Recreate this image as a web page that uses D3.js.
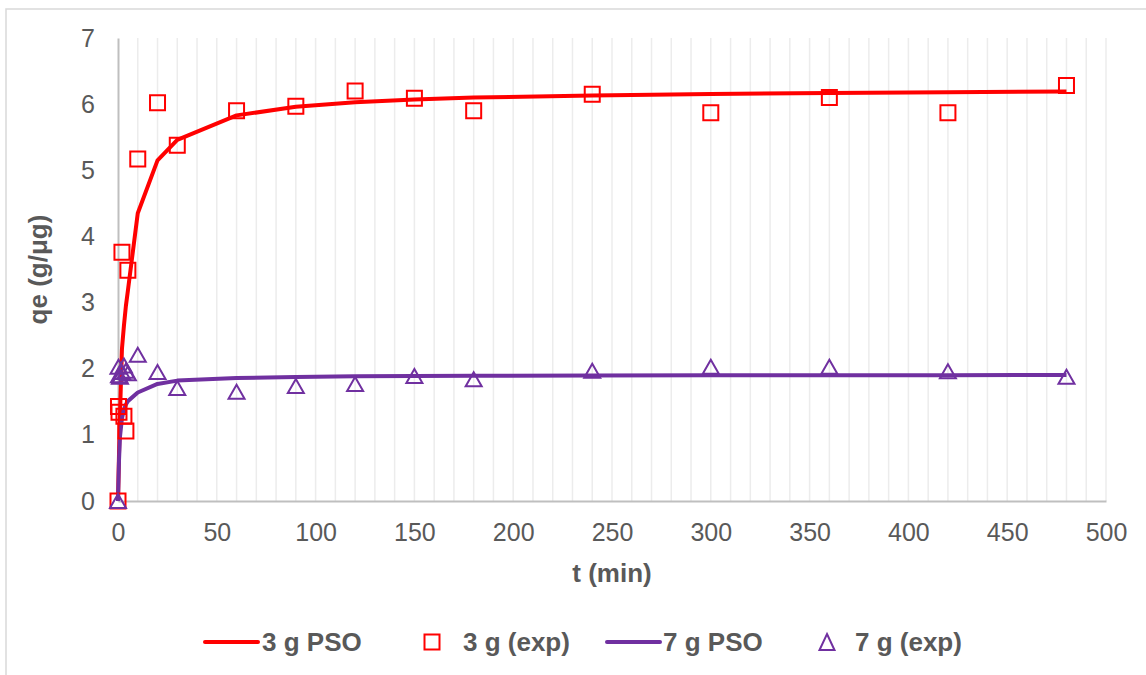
<!DOCTYPE html>
<html>
<head>
<meta charset="utf-8">
<script src="https://cdn.jsdelivr.net/npm/d3@7/dist/d3.min.js"></script>
<style>
  html, body { margin: 0; padding: 0; background: #fff; }
  svg { display: block; font-family: Arial, "Liberation Sans", sans-serif; }
</style>
</head>
<body>
<svg id="chart" width="1146" height="675"></svg>
<script>
// Contact time (min) for the experimental runs
const timeExp = [0, 0.25, 0.5, 2, 3, 4, 5, 10, 20, 30, 60, 90, 120, 150, 180, 240, 300, 360, 420, 480];
// Measured uptake, 3 g dose
const qe3Exp = [0, 1.43, 1.34, 3.76, 1.28, 1.06, 3.49, 5.17, 6.02, 5.38, 5.90, 5.97, 6.20, 6.09, 5.90, 6.15, 5.87, 6.10, 5.87, 6.28];
// Measured uptake, 7 g dose
const timeExp7 = [0, 0.25, 0.5, 1, 2, 3, 4, 5, 10, 20, 30, 60, 90, 120, 150, 180, 240, 300, 360, 420, 480];
const qe7Exp = [0, 2.03, 1.90, 1.88, 1.95, 2.05, 1.97, 1.93, 2.21, 1.95, 1.71, 1.65, 1.74, 1.77, 1.89, 1.84, 1.97, 2.03, 2.03, 1.96, 1.88];

// Pseudo-second-order model curves
const timeFit = [0, 0.5, 1, 2, 3, 4, 5, 10, 20, 30, 60, 90, 120, 150, 180, 240, 300, 360, 420, 480];
const qe3PSO = [0, 0.70, 1.30, 2.30, 2.65, 2.95, 3.18, 4.35, 5.15, 5.46, 5.83, 5.96, 6.03, 6.07, 6.10, 6.13, 6.155, 6.17, 6.18, 6.19];
const qe7PSO = [0, 0.60, 0.97, 1.25, 1.38, 1.46, 1.51, 1.64, 1.77, 1.82, 1.86, 1.875, 1.885, 1.89, 1.893, 1.897, 1.90, 1.902, 1.903, 1.905];

const xTicks = [0, 50, 100, 150, 200, 250, 300, 350, 400, 450, 500];
const yTicks = [0, 1, 2, 3, 4, 5, 6, 7];

const legendItems = [
  { label: "3 g PSO", kind: "line", color: "#FF0000" },
  { label: "3 g (exp)", kind: "square", color: "#FF0000" },
  { label: "7 g PSO", kind: "line", color: "#7030A0" },
  { label: "7 g (exp)", kind: "triangle", color: "#7030A0" }
];

const RED = "#FF0000", PURPLE = "#7030A0", TEXT = "#595959";

const svg = d3.select("#chart");

// chart area outline
svg.append("rect")
  .attr("x", 6).attr("y", 9).attr("width", 1400).attr("height", 900)
  .attr("fill", "none").attr("stroke", "#d9d9d9").attr("stroke-width", 1.5);

const plot = { left: 118, right: 1106, top: 38, bottom: 501 };

const x = d3.scaleLinear().domain([0, 500]).range([plot.left, plot.right]);
const y = d3.scaleLinear().domain([0, 7]).range([plot.bottom, plot.top]);

// vertical minor grid every 10 min
const gridVals = d3.range(10, 501, 10);
svg.append("g")
  .selectAll("line").data(gridVals).join("line")
  .attr("x1", d => x(d)).attr("x2", d => x(d))
  .attr("y1", plot.top).attr("y2", plot.bottom)
  .attr("stroke", "#ececec").attr("stroke-width", 1.5);

// axes
const xAxis = svg.append("g")
  .attr("transform", `translate(0,${plot.bottom})`)
  .call(d3.axisBottom(x).tickValues(xTicks).tickFormat(d3.format("d")).tickSize(0).tickPadding(22));
const yAxis = svg.append("g")
  .attr("transform", `translate(${plot.left},0)`)
  .call(d3.axisLeft(y).tickValues(yTicks).tickFormat(d3.format("d")).tickSize(0).tickPadding(23));

[xAxis, yAxis].forEach(g => {
  g.select(".domain").attr("stroke", "#bfbfbf").attr("stroke-width", 2);
  g.selectAll("text").attr("fill", TEXT).attr("font-size", 25)
    .attr("font-family", "Arial, 'Liberation Sans', sans-serif");
});

// axis titles
svg.append("text")
  .attr("x", 612).attr("y", 582)
  .attr("text-anchor", "middle").attr("fill", TEXT)
  .attr("font-size", 26).attr("font-weight", "bold")
  .text("t (min)");
svg.append("text")
  .attr("transform", `translate(47,${(plot.top + plot.bottom) / 2}) rotate(-90)`)
  .attr("text-anchor", "middle").attr("fill", TEXT)
  .attr("font-size", 26).attr("font-weight", "bold")
  .text("qe (g/μg)");

// model curves
const line = d3.line().x(d => x(d[0])).y(d => y(d[1]));
svg.append("path")
  .datum(timeFit.map((t, i) => [t, qe3PSO[i]]))
  .attr("d", line).attr("fill", "none")
  .attr("stroke", RED).attr("stroke-width", 4).attr("stroke-linejoin", "round");
svg.append("path")
  .datum(timeFit.map((t, i) => [t, qe7PSO[i]]))
  .attr("d", line).attr("fill", "none")
  .attr("stroke", PURPLE).attr("stroke-width", 4).attr("stroke-linejoin", "round");

// marker shapes
function squarePath(w, h) {
  return `M${-w / 2},${-h / 2}H${w / 2}V${h / 2}H${-w / 2}Z`;
}
function trianglePath(w, h) {
  return `M0,${-h / 2}L${w / 2},${h / 2}L${-w / 2},${h / 2}Z`;
}

svg.append("g")
  .selectAll("path").data(timeExp.map((t, i) => [t, qe3Exp[i]])).join("path")
  .attr("transform", d => `translate(${x(d[0])},${y(d[1])})`)
  .attr("d", squarePath(15, 15))
  .attr("fill", "none").attr("stroke", RED).attr("stroke-width", 2);

svg.append("g")
  .selectAll("path").data(timeExp7.map((t, i) => [t, qe7Exp[i]])).join("path")
  .attr("transform", d => `translate(${x(d[0])},${y(d[1])})`)
  .attr("d", trianglePath(16, 14))
  .attr("fill", "none").attr("stroke", PURPLE).attr("stroke-width", 2)
  .attr("stroke-linejoin", "miter");

// legend
const legendY = 642;
const legendLayout = [
  { markX0: 205, markX1: 258, textX: 262 },
  { markX: 432, textX: 463 },
  { markX0: 607, markX1: 660, textX: 663 },
  { markX: 827, textX: 855 }
];
const lg = svg.append("g");
legendItems.forEach((item, i) => {
  const L = legendLayout[i];
  if (item.kind === "line") {
    lg.append("line")
      .attr("x1", L.markX0).attr("x2", L.markX1)
      .attr("y1", legendY).attr("y2", legendY)
      .attr("stroke", item.color).attr("stroke-width", 4).attr("stroke-linecap", "round");
  } else if (item.kind === "square") {
    lg.append("path").attr("transform", `translate(${L.markX},${legendY})`)
      .attr("d", squarePath(15, 15))
      .attr("fill", "none").attr("stroke", item.color).attr("stroke-width", 2);
  } else {
    lg.append("path").attr("transform", `translate(${L.markX},${legendY})`)
      .attr("d", trianglePath(15, 16))
      .attr("fill", "none").attr("stroke", item.color).attr("stroke-width", 2);
  }
  lg.append("text")
    .attr("x", L.textX).attr("y", legendY + 9)
    .attr("fill", TEXT).attr("font-size", 26).attr("font-weight", "bold")
    .text(item.label);
});
</script>
</body>
</html>
